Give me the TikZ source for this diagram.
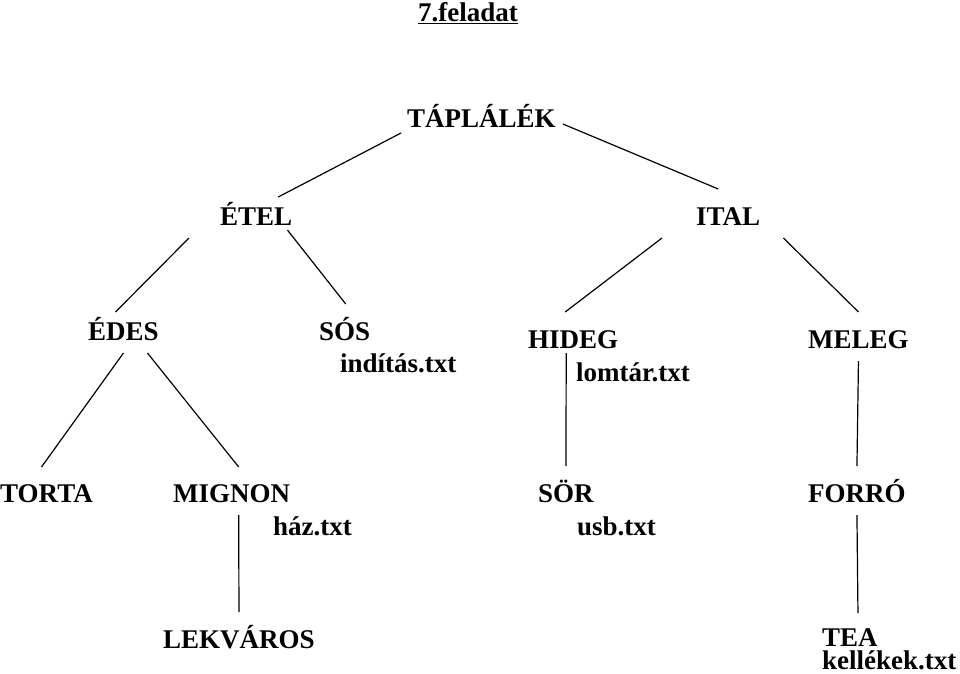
\documentclass[tikz,border=0pt]{standalone}
\usepackage{fontspec}
\setmainfont{Liberation Serif}
\usepackage{tikz}

\begin{document}
\begin{tikzpicture}[
  x=1pt, y=-1pt,
  font=\fontsize{27}{32}\selectfont\bfseries,
  item/.style={inner sep=0pt, anchor=base west},
  file/.style={inner sep=0pt, anchor=base west},
  link/.style={line width=1.2pt},
]
\useasboundingbox (0,0) rectangle (960,673);

\node[item] (title) at (418,21) {\underline{7.feladat}};

% levels of the tree
\node[item] (taplalek) at (407,127) {TÁPLÁLÉK};

\node[item] (etel) at (220,225) {ÉTEL};
\node[item] (ital) at (696,225) {ITAL};

\node[item] (edes) at (88,340) {ÉDES};
\node[item] (sos) at (319,340) {SÓS};
\node[item] (hideg) at (528,348) {HIDEG};
\node[item] (meleg) at (808,348) {MELEG};

\node[item] (torta) at (0,502) {TORTA};
\node[item] (mignon) at (173,502) {MIGNON};
\node[item] (sor) at (538,502) {SÖR};
\node[item] (forro) at (808,502) {FORRÓ};

\node[item] (lekvaros) at (163,648) {LEKVÁROS};
\node[item] (tea) at (822,646) {TEA};

% files
\node[file] (inditas) at (340,372) {indítás.txt};
\node[file] (lomtar) at (576,381) {lomtár.txt};
\node[file] (haz) at (273,535) {ház.txt};
\node[file] (usb) at (577,535) {usb.txt};
\node[file] (kellekek) at (822,669) {kellékek.txt};

\draw[link] ([shift={(-6,6)}]taplalek.base west) -- ([shift={(22,-28)}]etel.base);
\draw[link] ([shift={(7,-3)}]taplalek.base east) -- ([shift={(-10,-36)}]ital.base);
\draw[link] ([shift={(-31,13)}]etel.base west) -- ([shift={(-8,-28)}]edes.base);
\draw[link] ([shift={(-5,5)}]etel.base east) -- ([shift={(1,-36)}]sos.base);
\draw[link] ([shift={(-34,13)}]ital.base west) -- ([shift={(-8,-36)}]hideg.base);
\draw[link] ([shift={(23,13)}]ital.base east) -- ([shift={(0,-36)}]meleg.base);
\draw[link] ([shift={(0,13)}]edes.base) -- ([shift={(-5,-35)}]torta.base);
\draw[link] ([shift={(24,13)}]edes.base) -- ([shift={(7,-35)}]mignon.base);
\draw[link] ([shift={(-7,5)}]hideg.base) -- ([shift={(0,-36)}]sor.base);
\draw[link] ([shift={(0,13)}]meleg.base) -- ([shift={(0,-36)}]forro.base);
\draw[link] ([shift={(7,13)}]mignon.base) -- ([shift={(0,-36)}]lekvaros.base);
\draw[link] ([shift={(0,13)}]forro.base) -- ([shift={(8,-33)}]tea.base);

\end{tikzpicture}
\end{document}
